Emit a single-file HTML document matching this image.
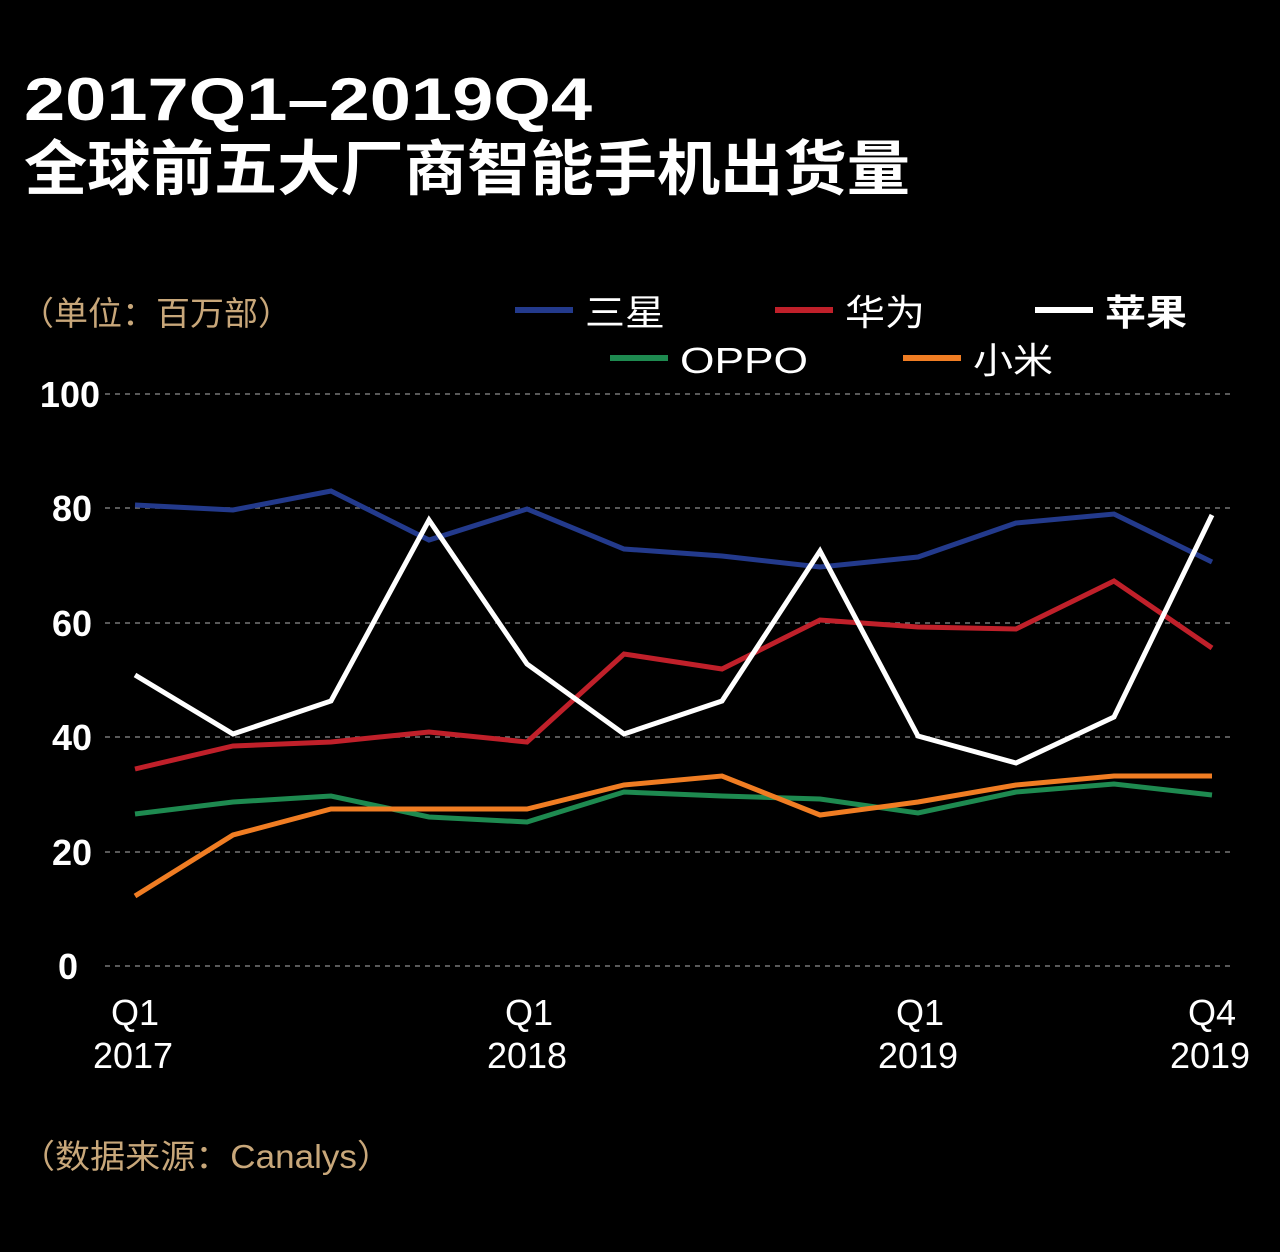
<!DOCTYPE html>
<html><head><meta charset="utf-8"><style>
body{margin:0;background:#000;width:1280px;height:1247px;overflow:hidden;font-family:"Liberation Sans","Noto Sans CJK SC",sans-serif;}
</style></head><body>
<svg width="1280" height="1247" xmlns="http://www.w3.org/2000/svg" style="font-family:'Liberation Sans','Noto Sans CJK SC',sans-serif">
<rect width="1280" height="1247" fill="#000"/>
<text x="24" y="120" fill="#fff" font-size="60" font-weight="bold" textLength="568" lengthAdjust="spacingAndGlyphs">2017Q1–2019Q4</text>
<text x="24" y="190" fill="#fff" font-size="60" font-weight="bold" textLength="886" lengthAdjust="spacingAndGlyphs">全球前五大厂商智能手机出货量</text>
<text x="20" y="325" fill="#c8a77a" font-size="33" textLength="272" lengthAdjust="spacingAndGlyphs">（单位：百万部）</text>
<g font-size="36" fill="#fff">
<rect x="515" y="307" width="58" height="6" fill="#233a8c"/><text x="585" y="325" textLength="80" lengthAdjust="spacingAndGlyphs">三星</text>
<rect x="775" y="307" width="58" height="6" fill="#c0202a"/><text x="845" y="325" textLength="80" lengthAdjust="spacingAndGlyphs">华为</text>
<rect x="1035" y="307" width="58" height="6" fill="#fff"/><text x="1105" y="325" font-weight="bold" textLength="82" lengthAdjust="spacingAndGlyphs">苹果</text>
<rect x="610" y="355" width="58" height="6" fill="#1e8a50"/><text x="680" y="373" textLength="128" lengthAdjust="spacingAndGlyphs">OPPO</text>
<rect x="903" y="355" width="58" height="6" fill="#f07d23"/><text x="973" y="373" textLength="80" lengthAdjust="spacingAndGlyphs">小米</text>
</g>
<g stroke="#777" stroke-width="1.5" stroke-dasharray="5,5">
<line x1="105" y1="394" x2="1232" y2="394"/><line x1="105" y1="508" x2="1232" y2="508"/>
<line x1="105" y1="623" x2="1232" y2="623"/><line x1="105" y1="737" x2="1232" y2="737"/>
<line x1="105" y1="852" x2="1232" y2="852"/><line x1="105" y1="966" x2="1232" y2="966"/>
</g>
<g fill="#fff" font-size="36" font-weight="bold" text-anchor="end">
<text x="100" y="407">100</text><text x="92" y="521">80</text><text x="92" y="636">60</text>
<text x="92" y="750">40</text><text x="92" y="865">20</text><text x="78" y="979">0</text>
</g>
<g fill="#fff" font-size="36" text-anchor="middle">
<text x="135" y="1025">Q1</text><text x="133" y="1068">2017</text>
<text x="529" y="1025">Q1</text><text x="527" y="1068">2018</text>
<text x="920" y="1025">Q1</text><text x="918" y="1068">2019</text>
<text x="1212" y="1025">Q4</text><text x="1210" y="1068">2019</text>
</g>
<g fill="none" stroke-width="5" stroke-linejoin="miter">
<polyline stroke="#233a8c" points="135,505 233,510 331,491 429,540 527,509 624,549 722,556 820,567 918,557 1016,523 1114,514 1212,562"/>
<polyline stroke="#1e8a50" points="135,814 233,802 331,796 429,817 527,822 624,792 722,796 820,799 918,813 1016,792 1114,784 1212,795"/>
<polyline stroke="#f07d23" points="135,896 233,835 331,809 429,809 527,809 624,785 722,776 820,815 918,802 1016,785 1114,776 1212,776"/>
<polyline stroke="#c0202a" points="135,769 233,746 331,742 429,732 527,742 624,654 722,669 820,620 918,627 1016,629 1114,581 1212,648"/>
<polyline stroke="#fff" points="135,675 233,734 331,701 429,520 527,664 624,734 722,701 820,551 918,736 1016,763 1114,717 1212,515"/>
</g>
<text x="20" y="1168" fill="#c8a77a" font-size="33" textLength="372" lengthAdjust="spacingAndGlyphs">（数据来源：Canalys）</text>
</svg>
</body></html>
